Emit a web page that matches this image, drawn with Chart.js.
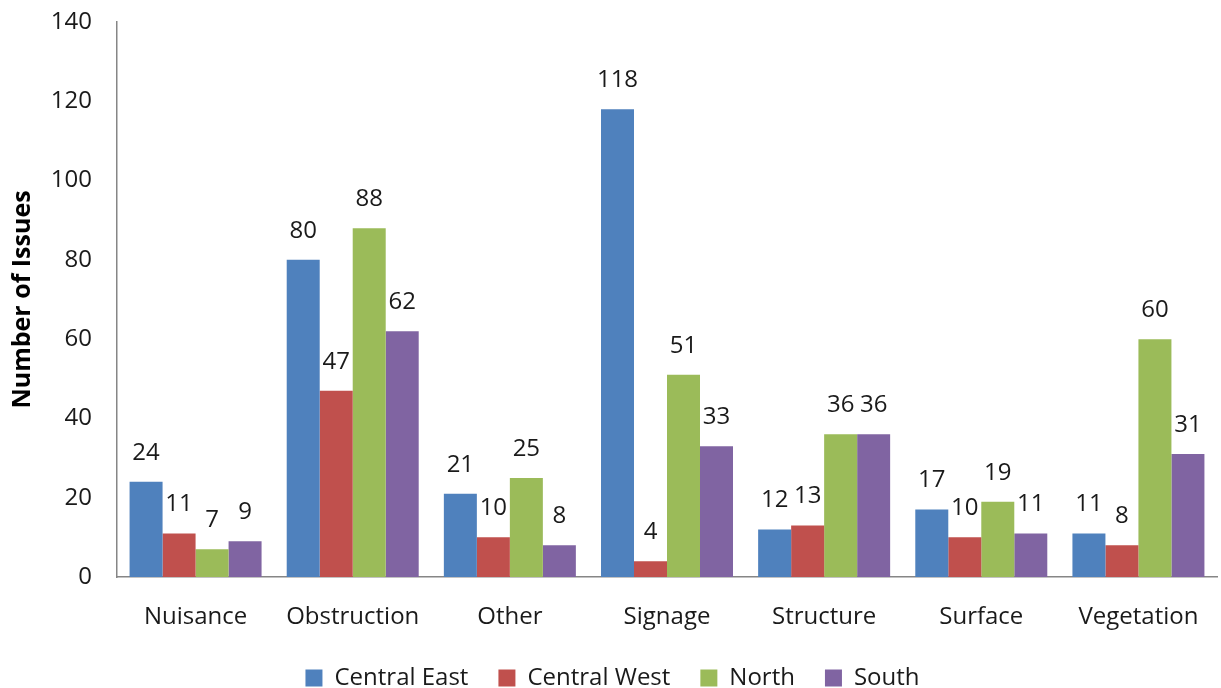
<!DOCTYPE html>
<html>
<head>
<meta charset="utf-8">
<script src="https://cdn.jsdelivr.net/npm/chart.js@4/dist/chart.umd.min.js"></script>
<style>
  html, body { margin: 0; padding: 0; background: #fff; }
  #wrap { width: 1221px; height: 688px; }
</style>
</head>
<body>
<div id="wrap"><canvas id="chart" width="1221" height="688"></canvas></div>
<script>
const categories = ["Nuisance", "Obstruction", "Other", "Signage", "Structure", "Surface", "Vegetation"];
const centralEast = [24, 80, 21, 118, 12, 17, 11];
const centralWest = [11, 47, 10, 4, 13, 10, 8];
const north = [7, 88, 25, 51, 36, 19, 60];
const south = [9, 62, 8, 33, 36, 11, 31];
const yTicks = [0, 20, 40, 60, 80, 100, 120, 140];

const FONT = "Open Sans";
const TEXT = "#1a1a1a";

// value labels above each bar
const barLabels = {
    id: "barLabels",
    afterDatasetsDraw(chart) {
        const ctx = chart.ctx;
        ctx.save();
        ctx.font = "24px '" + FONT + "'";
        ctx.fillStyle = TEXT;
        ctx.textAlign = "center";
        ctx.textBaseline = "middle";
        chart.data.datasets.forEach((ds, i) => {
            chart.getDatasetMeta(i).data.forEach((bar, j) => {
                ctx.fillText(String(ds.data[j]), bar.x, bar.y - 29);
            });
        });
        ctx.restore();
    }
};

new Chart(document.getElementById("chart"), {
    type: "bar",
    data: {
        labels: categories,
        datasets: [
            { label: "Central East", data: centralEast, backgroundColor: "#4F81BD" },
            { label: "Central West", data: centralWest, backgroundColor: "#C0504D" },
            { label: "North", data: north, backgroundColor: "#9BBB59" },
            { label: "South", data: south, backgroundColor: "#8064A2" }
        ]
    },
    options: {
        responsive: false,
        animation: false,
        categoryPercentage: 0.84,
        barPercentage: 1.0,
        layout: { padding: { top: 22, right: 4, left: 8, bottom: -12 } },
        plugins: {
            legend: {
                position: "bottom",
                labels: {
                    boxWidth: 17,
                    boxHeight: 17,
                    padding: 30,
                    color: TEXT,
                    font: { family: FONT, size: 24 }
                }
            },
            tooltip: { enabled: false }
        },
        scales: {
            x: {
                grid: { display: false },
                border: { display: true, color: "#868686", width: 1.5 },
                ticks: { color: TEXT, font: { family: FONT, size: 24 }, padding: 18 },
                afterFit: scale => { scale.height = 59; }
            },
            y: {
                min: 0,
                max: 140,
                afterBuildTicks: scale => { scale.ticks = yTicks.map(v => ({ value: v })); },
                afterFit: scale => {
                    scale.width = 109;
                    scale.paddingTop = 0;
                    scale.paddingBottom = 0;
                },
                grid: { display: false },
                border: { display: true, color: "#868686", width: 1.5 },
                ticks: { color: TEXT, font: { family: FONT, size: 24 }, padding: 17 },
                title: {
                    display: true,
                    text: "Number of Issues",
                    color: "#000",
                    font: { family: FONT, size: 25, weight: "bold" },
                    padding: { top: 0, bottom: 0 }
                }
            }
        }
    },
    plugins: [barLabels]
});
</script>
</body>
</html>
